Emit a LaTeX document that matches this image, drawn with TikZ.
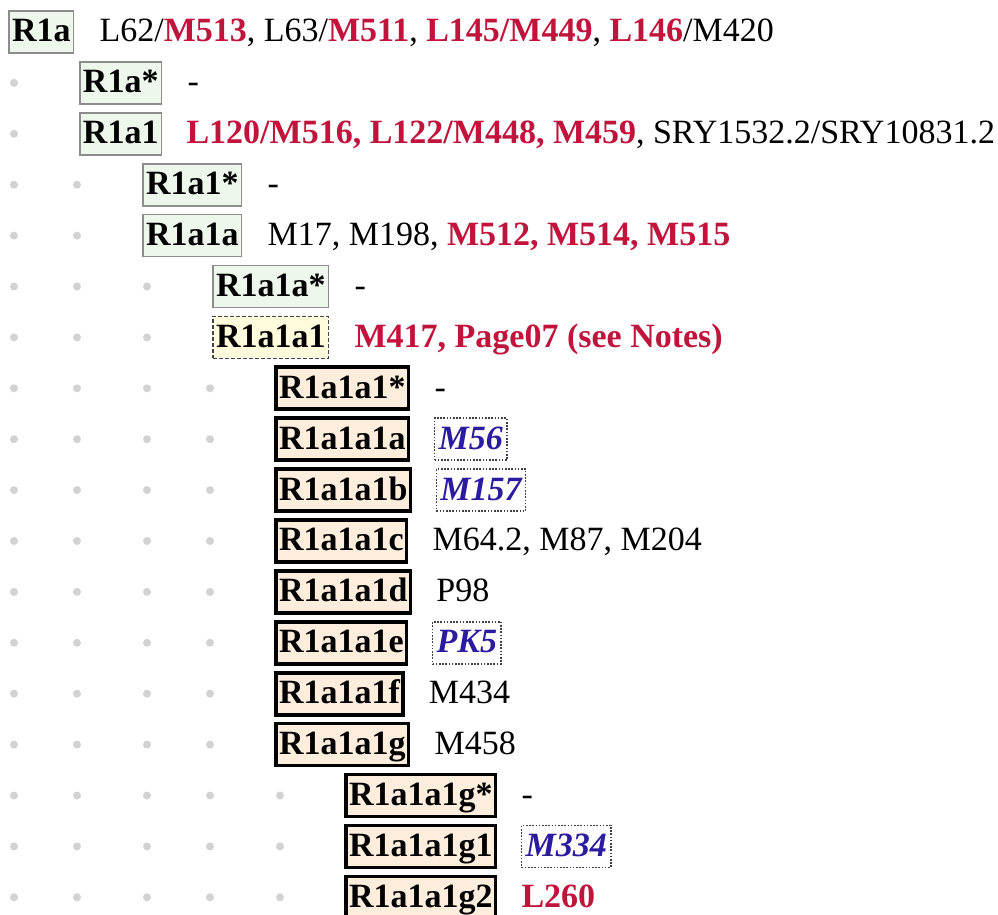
\documentclass[tikz,border=0pt]{standalone}
\usepackage{fontspec}
\setmainfont{Liberation Serif}
\definecolor{snpred}{HTML}{C0143C}
\definecolor{snpblue}{HTML}{2B1B9E}
\definecolor{boxgreen}{HTML}{EEF7EC}
\definecolor{boxyellow}{HTML}{FFFBDC}
\definecolor{boxpeach}{HTML}{FDEDDC}
\newcommand\hl[1]{\textcolor{snpred}{\textbf{#1}}}
\begin{document}
\begin{tikzpicture}[x=0.5pt,y=-0.5pt,
  every node/.style={font=\fontsize{17}{20}\selectfont, outer sep=0pt},
  hbox/.style={anchor=west, inner xsep=1.5pt, inner ysep=4pt, text height=11.5pt, text depth=1.5pt, font=\fontsize{17}{20}\selectfont\bfseries},
  greenbox/.style={hbox, draw=gray!90, line width=0.85pt, fill=boxgreen},
  yellowbox/.style={hbox, draw=gray!55!black, dash pattern=on 2pt off 1pt, line width=0.8pt, fill=boxyellow},
  peachbox/.style={hbox, draw=black, line width=1.8pt, fill=boxpeach},
  snps/.style={anchor=west, inner sep=0pt, text height=11.5pt, text depth=1.5pt, xshift=13pt},
  novel/.style={snps, draw=black!75, dash pattern=on 0.8pt off 0.8pt, line width=0.8pt, inner xsep=2pt, inner ysep=4pt, font=\fontsize{17}{20}\selectfont\bfseries\itshape, text=snpblue},
  gdot/.style={circle, fill=gray!35, inner sep=0pt, minimum size=4pt}
]
\useasboundingbox (0,0) rectangle (998,915);

% indentation dots
\foreach \y in {82.9,133.8,184.7,235.6,286.5,337.4,388.3,439.2,490.1,541,591.9,642.8,693.7,744.6,795.5,846.4,897.3}
  \node[gdot] at (14,\y) {};
\foreach \y in {184.7,235.6,286.5,337.4,388.3,439.2,490.1,541,591.9,642.8,693.7,744.6,795.5,846.4,897.3}
  \node[gdot] at (77,\y) {};
\foreach \y in {286.5,337.4,388.3,439.2,490.1,541,591.9,642.8,693.7,744.6,795.5,846.4,897.3}
  \node[gdot] at (147,\y) {};
\foreach \y in {388.3,439.2,490.1,541,591.9,642.8,693.7,744.6,795.5,846.4,897.3}
  \node[gdot] at (210,\y) {};
\foreach \y in {795.5,846.4,897.3}
  \node[gdot] at (280,\y) {};

% rows
\node[greenbox] (b0) at (9,32) {R1a};
\node[snps] (t0) at (b0.east) {L62/\hl{M513}, L63/\hl{M511}, \hl{L145/M449}, \hl{L146}/M420};

\node[greenbox] (b1) at (80,82.9) {R1a*};
\node[snps] (t1) at (b1.east) {-};

\node[greenbox] (b2) at (80,133.8) {R1a1};
\node[snps, xshift=-0.5pt] (t2) at (b2.east) {\hl{L120/M516, L122/M448, M459}, SRY1532.2/SRY10831.2};

\node[greenbox] (b3) at (143,184.7) {R1a1*};
\node[snps] (t3) at (b3.east) {-};

\node[greenbox] (b4) at (143,235.6) {R1a1a};
\node[snps] (t4) at (b4.east) {M17, M198, \hl{M512, M514, M515}};

\node[greenbox] (b5) at (213,286.5) {R1a1a*};
\node[snps] (t5) at (b5.east) {-};

\node[yellowbox] (b6) at (213,337.4) {R1a1a1};
\node[snps] (t6) at (b6.east) {\hl{M417, Page07 (see Notes)}};

\node[peachbox] (b7) at (276,388.3) {R1a1a1*};
\node[snps] (t7) at (b7.east) {-};

\node[peachbox] (b8) at (276,439.2) {R1a1a1a};
\node[novel] (t8) at (b8.east) {M56};

\node[peachbox] (b9) at (276,490.1) {R1a1a1b};
\node[novel] (t9) at (b9.east) {M157};

\node[peachbox] (b10) at (276,541) {R1a1a1c};
\node[snps] (t10) at (b10.east) {M64.2, M87, M204};

\node[peachbox] (b11) at (276,591.9) {R1a1a1d};
\node[snps] (t11) at (b11.east) {P98};

\node[peachbox] (b12) at (276,642.8) {R1a1a1e};
\node[novel] (t12) at (b12.east) {PK5};

\node[peachbox] (b13) at (276,693.7) {R1a1a1f};
\node[snps] (t13) at (b13.east) {M434};

\node[peachbox] (b14) at (276,744.6) {R1a1a1g};
\node[snps] (t14) at (b14.east) {M458};

\node[peachbox] (b15) at (346,795.5) {R1a1a1g*};
\node[snps] (t15) at (b15.east) {-};

\node[peachbox] (b16) at (346,846.4) {R1a1a1g1};
\node[novel] (t16) at (b16.east) {M334};

\node[peachbox] (b17) at (346,897.3) {R1a1a1g2};
\node[snps] (t17) at (b17.east) {\hl{L260}};
\end{tikzpicture}
\end{document}
